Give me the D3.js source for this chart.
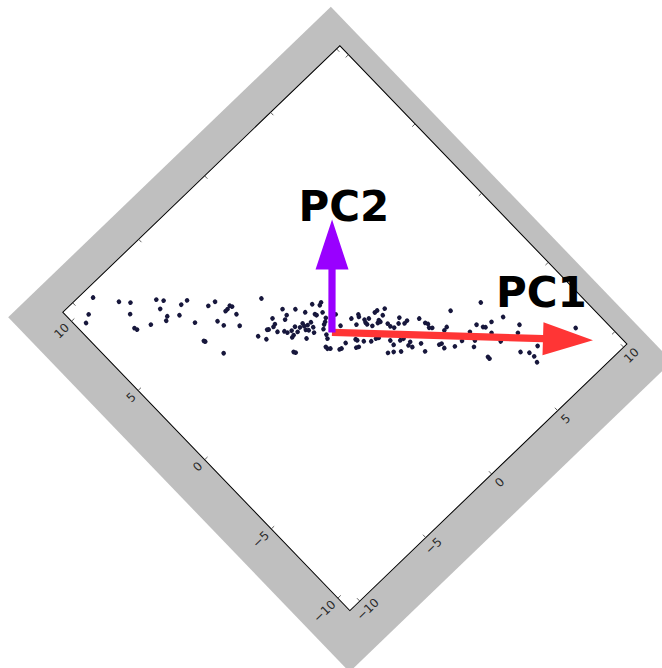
<!DOCTYPE html>
<html><head><meta charset="utf-8">
<script src="https://cdn.jsdelivr.net/npm/d3@7/dist/d3.min.js"></script>
<style>body{margin:0;background:#fff;overflow:hidden}</style>
</head><body>
<svg id="c" width="662" height="668"></svg>
<script>
// ---- data ----
const xTicks = [-10, -5, 0, 5, 10];
const yTicks = [-10, -5, 0, 5, 10];
const xDomain = [-10.75, 10.25];
const yDomain = [-10.9, 10.65];

const pointsX = [-9.00,-8.14,-7.72,-6.59,-6.34,-5.41,-5.80,-6.79,-9.81,-8.17,-6.79,-6.27,-7.00,-10.24,-7.75,-5.94,-8.53,-8.48,
 -4.78,-4.36,-3.93,-3.87,-4.15,-4.30,-3.99,-2.41,-5.00,-4.91,-4.30,-6.28,-6.25,-5.97,-3.97,-3.76,-2.73,-1.98,-2.05,-2.28,-1.48,-1.21,
 -0.63,-0.21,-0.37,-0.90,-0.87,-0.53,-2.85,-3.01,-3.30,-3.37,-3.04,-2.75,-2.68,-2.44,-2.16,-2.25,-2.67,-2.53,-1.99,-1.73,-1.77,-1.60,
 -1.36,-1.85,-1.75,-1.46,-1.63,-2.15,-0.61,-0.79,-0.93,-1.13,-1.22,-1.71,-1.71,-3.17,-3.11,
 -0.09,-0.33,-1.26,-1.15,-0.78,0.37,0.34,0.80,0.73,0.84,0.77,1.06,0.77,0.92,1.52,1.69,2.06,1.73,1.39,1.39,1.24,1.61,1.61,2.29,2.04,
 2.48,2.28,1.71,3.04,3.11,3.18,3.08,3.20,4.57,3.80,3.58,-0.25,-0.22,0.00,0.29,0.58,0.72,-0.41,-0.54,1.07,1.04,1.47,1.66,1.80,1.60,
 1.69,1.08,0.77,0.51,2.17,2.03,2.84,2.97,2.91,3.39,-1.59,
 6.07,6.40,5.76,5.23,5.32,5.06,4.53,6.75,6.38,5.34,3.88,4.40,5.38,4.12,4.29,4.29,5.76,6.08,6.13,6.02,6.66,8.84,-1.33];
const pointsY = [10.11,9.02,8.57,7.75,7.45,6.61,6.66,7.26,9.64,8.15,6.73,6.33,6.60,9.41,7.01,5.49,7.47,7.32,
 5.64,5.55,4.87,4.75,4.82,4.82,4.31,4.00,4.73,4.35,3.76,4.49,4.41,3.31,2.70,2.29,2.85,2.84,2.46,2.35,2.37,1.90,
 1.95,1.70,1.64,1.48,1.38,1.27,2.55,2.50,2.57,2.62,2.17,1.94,1.78,1.70,1.73,1.44,1.43,1.46,1.52,1.58,1.42,1.33,
 1.32,1.22,1.10,1.05,0.82,0.87,0.95,0.82,0.76,0.61,0.30,-0.14,-0.27,0.83,0.73,
 0.72,0.12,-0.73,-0.77,-0.71,0.00,-0.41,-0.10,-0.21,-0.52,-0.67,-0.63,-0.79,-1.03,-0.62,-0.63,-0.83,-1.01,-1.05,-1.17,-1.12,-1.50,-1.70,-1.70,-1.89,
 -2.09,-2.10,-1.89,-2.45,-2.83,-2.97,-3.15,-3.27,-3.29,-3.76,-3.80,-0.93,-1.03,-1.30,-1.57,-1.64,-1.71,-1.33,-1.27,-2.23,-2.51,-2.58,-2.64,-3.00,-3.07,
 -3.27,-3.03,-2.78,-2.61,-3.45,-3.89,-4.15,-4.20,-4.46,-4.78,-0.37,
 -4.07,-5.42,-5.18,-5.07,-5.17,-4.75,-4.78,-6.30,-6.55,-5.60,-4.83,-5.28,-6.25,-5.49,-6.37,-6.49,-7.36,-7.71,-8.02,-8.34,-7.75,-8.45,0.11];

const pcNames = ["PC1", "PC2"];
const pcOrigin = [-0.92, 0.18];
const pcDx = [9.98, 4.28];
const pcDy = [-9.71, 4.23];
const pcColors = ["#ff3535", "#9900ff"];

// ---- layout ----
const W = 384.5, H = 414, ANGLE = -43.9;
const TL = [62.8, 312.3];
const M = {l: 42.8, r: 20.5, t: 34.3, b: 44};

const svg = d3.select("#c");
const g = svg.append("g").attr("transform", `translate(${TL[0]},${TL[1]}) rotate(${ANGLE})`);

// figure background (gray) and axes background
g.append("rect").attr("x", -M.l).attr("y", -M.t)
  .attr("width", W + M.l + M.r).attr("height", H + M.t + M.b).attr("fill", "#bfbfbf");
g.append("rect").attr("x", 0).attr("y", 0).attr("width", W).attr("height", H).attr("fill", "#fff");

const x = d3.scaleLinear().domain(xDomain).range([0, W]);
const y = d3.scaleLinear().domain(yDomain).range([H, 0]);

// points
const pts = pointsX.map((v, i) => [v, pointsY[i]]);
g.append("g").selectAll("circle").data(pts).join("circle")
  .attr("cx", d => x(d[0])).attr("cy", d => y(d[1])).attr("r", 2.3)
  .attr("fill", "#17173c");

// arrows
function arrowPath(i) {
  const p0 = [x(pcOrigin[0]), y(pcOrigin[1])];
  const p1 = [x(pcOrigin[0] + pcDx[i]), y(pcOrigin[1] + pcDy[i])];
  const L = Math.hypot(p1[0] - p0[0], p1[1] - p0[1]);
  const d = [(p1[0] - p0[0]) / L, (p1[1] - p0[1]) / L];
  const n = [-d[1], d[0]];
  const sw = 3.6, hw = 16.5, hl = 50;
  const hb = [p1[0] - d[0] * hl, p1[1] - d[1] * hl];
  const P = (b, s) => [b[0] + n[0] * s, b[1] + n[1] * s];
  const poly = [P(p0, sw), P(hb, sw), P(hb, hw), p1, P(hb, -hw), P(hb, -sw), P(p0, -sw)];
  return "M" + poly.map(p => p.join(",")).join("L") + "Z";
}
g.append("g").selectAll("path").data([0, 1]).join("path")
  .attr("d", i => arrowPath(i)).attr("fill", i => pcColors[i]);

// spines
g.append("rect").attr("x", 0).attr("y", 0).attr("width", W).attr("height", H)
  .attr("fill", "none").attr("stroke", "#000").attr("stroke-width", 1);

// ticks (inward, all four sides)
const tk = g.append("g").attr("stroke", "#444").attr("stroke-width", 0.8);
xTicks.forEach(t => {
  tk.append("line").attr("x1", x(t)).attr("x2", x(t)).attr("y1", H).attr("y2", H - 4);
  tk.append("line").attr("x1", x(t)).attr("x2", x(t)).attr("y1", 0).attr("y2", 4);
});
yTicks.forEach(t => {
  tk.append("line").attr("y1", y(t)).attr("y2", y(t)).attr("x1", 0).attr("x2", 4);
  tk.append("line").attr("y1", y(t)).attr("y2", y(t)).attr("x1", W).attr("x2", W - 4);
});

const fmt = v => String(v).replace("-", "\u2212");
const lab = g.append("g").attr("font-family", "DejaVu Sans").attr("font-size", 12).attr("fill", "#2a2a2a");
lab.selectAll("text.xt").data(xTicks).join("text").attr("class", "xt")
  .attr("x", d => x(d)).attr("y", H + 15.5).attr("text-anchor", "middle").text(fmt);
lab.selectAll("text.yt").data(yTicks).join("text").attr("class", "yt")
  .attr("x", -6).attr("y", d => y(d) + 4.3).attr("text-anchor", "end").text(fmt);

// PC labels (horizontal on the page)
const labelPos = [[496, 306.5], [298.5, 220.5]];
svg.append("g").selectAll("text").data(pcNames).join("text")
  .attr("x", (d, i) => labelPos[i][0]).attr("y", (d, i) => labelPos[i][1])
  .attr("font-family", "DejaVu Sans").attr("font-weight", "bold").attr("font-size", 42)
  .attr("fill", "#000").text(d => d);
</script>
</body></html>
